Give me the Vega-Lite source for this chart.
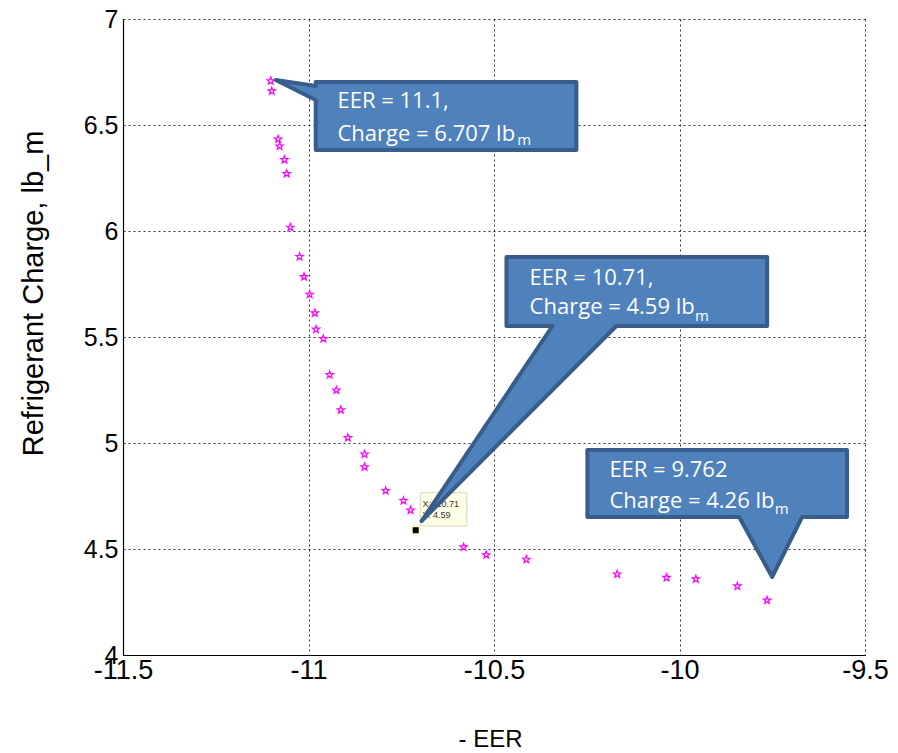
{
  "$schema": "https://vega.github.io/schema/vega-lite/v6.json",
  "width": 742,
  "height": 636,
  "autosize": {"type": "none"},
  "padding": {"left": 123, "top": 19, "right": 33, "bottom": 98},
  "background": "white",
  "config": {"view": {"stroke": null}},
  "data": {"values": [
    {"k": "pt", "eer": -11.102, "charge": 6.708}, {"k": "pt", "eer": -11.099, "charge": 6.660}, {"k": "pt", "eer": -11.082, "charge": 6.433},
    {"k": "pt", "eer": -11.078, "charge": 6.400}, {"k": "pt", "eer": -11.065, "charge": 6.336}, {"k": "pt", "eer": -11.059, "charge": 6.270},
    {"k": "pt", "eer": -11.049, "charge": 6.017}, {"k": "pt", "eer": -11.024, "charge": 5.879}, {"k": "pt", "eer": -11.012, "charge": 5.784},
    {"k": "pt", "eer": -10.997, "charge": 5.701}, {"k": "pt", "eer": -10.983, "charge": 5.613}, {"k": "pt", "eer": -10.980, "charge": 5.536},
    {"k": "pt", "eer": -10.960, "charge": 5.492}, {"k": "pt", "eer": -10.943, "charge": 5.322}, {"k": "pt", "eer": -10.925, "charge": 5.249},
    {"k": "pt", "eer": -10.913, "charge": 5.156}, {"k": "pt", "eer": -10.894, "charge": 5.025}, {"k": "pt", "eer": -10.849, "charge": 4.947},
    {"k": "pt", "eer": -10.849, "charge": 4.887}, {"k": "pt", "eer": -10.792, "charge": 4.775}, {"k": "pt", "eer": -10.744, "charge": 4.728},
    {"k": "pt", "eer": -10.725, "charge": 4.683}, {"k": "pt", "eer": -10.582, "charge": 4.509}, {"k": "pt", "eer": -10.521, "charge": 4.472},
    {"k": "pt", "eer": -10.413, "charge": 4.451}, {"k": "pt", "eer": -10.168, "charge": 4.381}, {"k": "pt", "eer": -10.035, "charge": 4.365},
    {"k": "pt", "eer": -9.956, "charge": 4.358}, {"k": "pt", "eer": -9.844, "charge": 4.325}, {"k": "pt", "eer": -9.764, "charge": 4.258},
    {"k": "poly", "c": "a", "i": 1, "eer": -10.9805, "charge": 6.7028},
    {"k": "poly", "c": "a", "i": 2, "eer": -10.2779, "charge": 6.7028},
    {"k": "poly", "c": "a", "i": 3, "eer": -10.2779, "charge": 6.3821},
    {"k": "poly", "c": "a", "i": 4, "eer": -10.9805, "charge": 6.3821},
    {"k": "poly", "c": "a", "i": 5, "eer": -10.9805, "charge": 6.6179},
    {"k": "poly", "c": "a", "i": 6, "eer": -11.0882, "charge": 6.7123},
    {"k": "poly", "c": "a", "i": 7, "eer": -10.9805, "charge": 6.6840},
    {"k": "poly", "c": "b", "i": 1, "eer": -10.4664, "charge": 5.8774},
    {"k": "poly", "c": "b", "i": 2, "eer": -9.7638, "charge": 5.8774},
    {"k": "poly", "c": "b", "i": 3, "eer": -9.7638, "charge": 5.5519},
    {"k": "poly", "c": "b", "i": 4, "eer": -10.1703, "charge": 5.5519},
    {"k": "poly", "c": "b", "i": 5, "eer": -10.6952, "charge": 4.6321},
    {"k": "poly", "c": "b", "i": 6, "eer": -10.3425, "charge": 5.5519},
    {"k": "poly", "c": "b", "i": 7, "eer": -10.4664, "charge": 5.5519},
    {"k": "poly", "c": "d", "i": 1, "eer": -10.2483, "charge": 4.9670},
    {"k": "poly", "c": "d", "i": 2, "eer": -9.5485, "charge": 4.9670},
    {"k": "poly", "c": "d", "i": 3, "eer": -9.5485, "charge": 4.6509},
    {"k": "poly", "c": "d", "i": 4, "eer": -9.6696, "charge": 4.6509},
    {"k": "poly", "c": "d", "i": 5, "eer": -9.7503, "charge": 4.3679},
    {"k": "poly", "c": "d", "i": 6, "eer": -9.8392, "charge": 4.6509},
    {"k": "poly", "c": "d", "i": 7, "eer": -10.2483, "charge": 4.6509},
    {"k": "txt", "eer": -10.922, "charge": 6.582, "t": "EER = 11.1,"},
    {"k": "txt", "eer": -10.922, "charge": 6.426, "t": "Charge = 6.707 lb"},
    {"k": "txt", "eer": -10.404, "charge": 5.745, "t": "EER = 10.71,"},
    {"k": "txt", "eer": -10.404, "charge": 5.608, "t": "Charge = 4.59 lb"},
    {"k": "txt", "eer": -10.189, "charge": 4.841, "t": "EER = 9.762"},
    {"k": "txt", "eer": -10.189, "charge": 4.695, "t": "Charge = 4.26 lb"},
    {"k": "sub", "eer": -10.437, "charge": 6.406, "t": "m"},
    {"k": "sub", "eer": -9.958, "charge": 5.577, "t": "m"},
    {"k": "sub", "eer": -9.743, "charge": 4.665, "t": "m"},
    {"k": "tipbox", "eer": -10.6987, "eer2": -10.5732, "charge": 4.6085, "charge2": 4.7656},
    {"k": "tip", "eer": -10.693, "charge": 4.6995, "t": "X: -10.71"},
    {"k": "tip", "eer": -10.693, "charge": 4.6448, "t": "Y: 4.59"},
    {"k": "sel", "eer": -10.711, "charge": 4.588}
  ]},
  "encoding": {
    "x": {
      "field": "eer", "type": "quantitative",
      "scale": {"domain": [-11.5, -9.5], "nice": false, "zero": false},
      "axis": {
        "title": "- EER", "values": [-11.5, -11, -10.5, -10, -9.5],
        "labelExpr": "'' + datum.value",
        "labelFont": "Liberation Sans", "labelFontSize": 27, "labelColor": "#000", "labelPadding": 2,
        "labelFlush": false, "labelOverlap": false,
        "ticks": false, "domainColor": "#000", "domainWidth": 1.2,
        "grid": true, "gridColor": "#000", "gridDash": [2, 3], "gridOpacity": 0.8, "gridWidth": 1,
        "titleFont": "Liberation Sans", "titleFontSize": 24, "titleFontWeight": "normal", "titleColor": "#000",
        "titleX": 367, "titleY": 91, "titleBaseline": "alphabetic", "titleAlign": "center"
      }
    },
    "y": {
      "field": "charge", "type": "quantitative",
      "scale": {"domain": [4, 7], "nice": false, "zero": false},
      "axis": {
        "title": "Refrigerant Charge, lb_m", "values": [4, 4.5, 5, 5.5, 6, 6.5, 7],
        "labelExpr": "'' + datum.value",
        "labelFont": "Liberation Sans", "labelFontSize": 25, "labelColor": "#000", "labelPadding": 5,
        "labelFlush": false, "labelOverlap": false,
        "ticks": false, "domainColor": "#000", "domainWidth": 1.2,
        "grid": true, "gridColor": "#000", "gridDash": [2, 3], "gridOpacity": 0.8, "gridWidth": 1,
        "titleFont": "Liberation Sans", "titleFontSize": 29, "titleFontWeight": "normal", "titleColor": "#000",
        "titleX": -90, "titleY": 274, "titleBaseline": "middle", "titleAlign": "center", "titleAngle": -90
      }
    }
  },
  "layer": [
    {
      "transform": [{"filter": "datum.k == 'pt'"}],
      "mark": {"type": "point", "shape": "M0,-1L0.235,-0.324L0.951,-0.309L0.38,0.124L0.588,0.809L0,0.4L-0.588,0.809L-0.38,0.124L-0.951,-0.309L-0.235,-0.324Z", "filled": false, "stroke": "#FF00FF", "strokeWidth": 1.2, "size": 60, "opacity": 1}
    },
    {
      "transform": [{"filter": "datum.k == 'tipbox'"}],
      "mark": {"type": "rect", "fill": "#FFFFE6", "stroke": "#D6D6C2", "strokeWidth": 1},
      "encoding": {
        "x2": {"field": "eer2"},
        "y2": {"field": "charge2"}
      }
    },
    {
      "transform": [{"filter": "datum.k == 'tip'"}],
      "mark": {"type": "text", "align": "left", "baseline": "alphabetic", "font": "Liberation Sans", "fontSize": 9, "color": "#333"},
      "encoding": {"text": {"field": "t"}}
    },
    {
      "transform": [{"filter": "datum.k == 'sel'"}],
      "mark": {"type": "point", "shape": "square", "filled": true, "fill": "#000", "stroke": "#FFFFD0", "strokeWidth": 2, "size": 64, "opacity": 1}
    },
    {
      "transform": [{"filter": "datum.k == 'poly'"}],
      "mark": {"type": "line", "interpolate": "linear-closed", "fill": "#4F81BD", "stroke": "#385D8A", "strokeWidth": 4, "strokeJoin": "round"},
      "encoding": {
        "detail": {"field": "c"},
        "order": {"field": "i", "type": "quantitative"}
      }
    },
    {
      "transform": [{"filter": "datum.k == 'txt'"}],
      "mark": {"type": "text", "align": "left", "baseline": "alphabetic", "font": "Open Sans", "fontSize": 22, "color": "#FFFFFF"},
      "encoding": {"text": {"field": "t"}}
    },
    {
      "transform": [{"filter": "datum.k == 'sub'"}],
      "mark": {"type": "text", "align": "left", "baseline": "alphabetic", "font": "Open Sans", "fontSize": 15, "color": "#FFFFFF"},
      "encoding": {"text": {"field": "t"}}
    }
  ]
}
